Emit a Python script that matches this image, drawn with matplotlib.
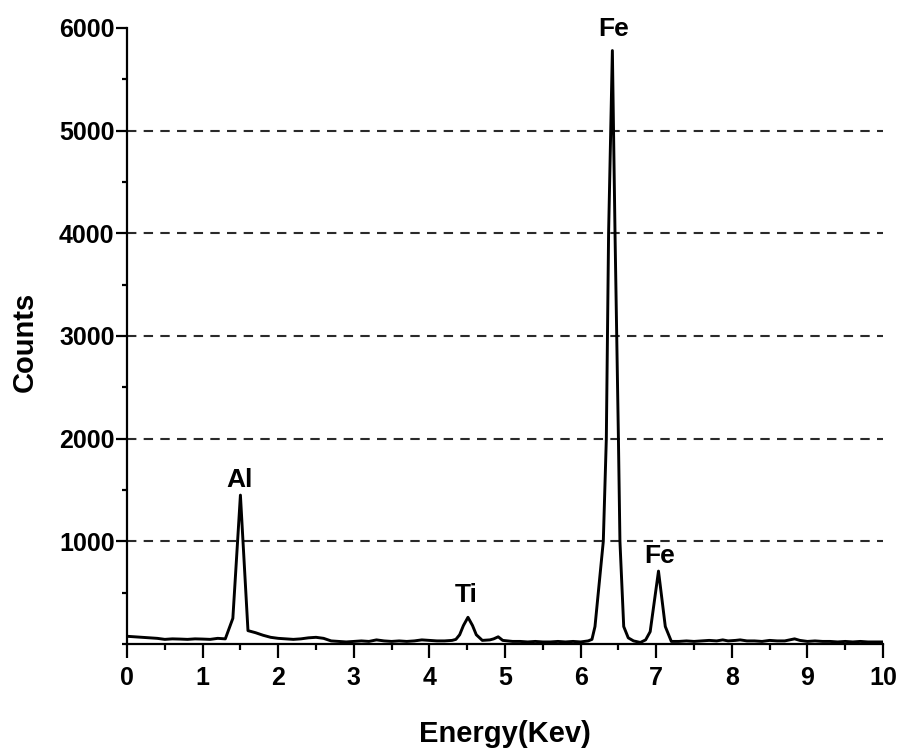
import matplotlib
matplotlib.use("Agg")
import matplotlib.pyplot as plt
from matplotlib.ticker import MultipleLocator

plt.rcParams["font.family"] = ["Liberation Sans", "DejaVu Sans"]
plt.rcParams["font.weight"] = "bold"

# EDS spectrum: energy (keV) and counts
energy = [0.0, 0.1, 0.2, 0.3, 0.4, 0.5, 0.6, 0.7, 0.8, 0.9, 1.0, 1.1, 1.2, 1.3,
          1.4, 1.5, 1.6, 1.7, 1.8, 1.9, 2.0, 2.1, 2.2, 2.3, 2.4, 2.5, 2.6, 2.7,
          2.8, 2.9, 3.0, 3.1, 3.2, 3.3, 3.4, 3.5, 3.6, 3.7, 3.8, 3.9, 4.0, 4.1,
          4.2, 4.3, 4.35, 4.4, 4.45, 4.51, 4.57, 4.62, 4.7, 4.8, 4.85, 4.91,
          4.97, 5.1, 5.2, 5.3, 5.4, 5.5, 5.6, 5.7, 5.8, 5.9, 6.0, 6.1, 6.15,
          6.19, 6.30, 6.34, 6.37, 6.42, 6.455, 6.50, 6.52, 6.57, 6.63, 6.7,
          6.79, 6.86, 6.92, 7.03, 7.12, 7.2, 7.3, 7.4, 7.5, 7.6, 7.7, 7.8,
          7.88, 7.95, 8.05, 8.11, 8.2, 8.3, 8.4, 8.5, 8.6, 8.7, 8.83, 8.9,
          9.0, 9.1, 9.2, 9.3, 9.4, 9.5, 9.6, 9.7, 9.8, 9.9, 10.0]
counts = [75, 70, 65, 60, 55, 45, 50, 48, 45, 50, 48, 45, 55, 50,
          250, 1450, 130, 110, 85, 65, 55, 50, 45, 50, 60, 65, 55, 30,
          25, 20, 25, 30, 25, 40, 30, 25, 30, 25, 30, 40, 35, 30,
          30, 35, 45, 90, 180, 260, 180, 90, 35, 40, 50, 70,
          35, 25, 25, 20, 25, 20, 20, 25, 20, 25, 20, 30, 45,
          170, 1000, 2000, 4000, 5780, 4000, 2000, 1000, 170, 60, 30,
          15, 40, 120, 710, 170, 25, 25, 30, 25, 30, 35, 30,
          40, 30, 35, 40, 30, 30, 25, 35, 30, 30, 50, 35,
          25, 30, 25, 25, 20, 25, 20, 25, 20, 20, 20]

# Peak annotations: element, energy, count position of label baseline
peak_names = ["Al", "Ti", "Fe", "Fe"]
peak_x = [1.49, 4.49, 6.43, 7.05]
peak_y = [1530, 410, 5920, 785]

grid_levels = [1000, 2000, 3000, 4000, 5000]

fig = plt.figure(figsize=(9.04, 7.54), dpi=100)
ax = fig.add_axes([0.1405, 0.1459, 0.8363, 0.8170])

for lvl in grid_levels:
    ax.axhline(lvl, color="#2a2a2a", lw=1.5, dashes=(4.5, 3.5), zorder=1)

ax.plot(energy, counts, color="black", lw=2.1, solid_joinstyle="round", zorder=3)

for name, x, y in zip(peak_names, peak_x, peak_y):
    ax.text(x, y, name, ha="center", va="baseline", fontsize=19,
            fontweight="bold", zorder=4)

ax.set_xlim(0, 10)
ax.set_ylim(0, 6000)
ax.xaxis.set_major_locator(MultipleLocator(1))
ax.xaxis.set_minor_locator(MultipleLocator(0.5))
ax.yaxis.set_major_locator(MultipleLocator(1000))
ax.yaxis.set_minor_locator(MultipleLocator(500))
ax.set_yticks([1000, 2000, 3000, 4000, 5000, 6000])

for side in ["top", "right"]:
    ax.spines[side].set_visible(False)
for side in ["left", "bottom"]:
    ax.spines[side].set_linewidth(1.6)

ax.tick_params(axis="x", which="major", length=10, width=1.6, pad=6, labelsize=18)
ax.tick_params(axis="x", which="minor", length=4.5, width=1.6)
ax.tick_params(axis="y", which="major", length=8, width=1.6, pad=1, labelsize=18)
ax.tick_params(axis="y", which="minor", length=3.5, width=1.6)
for lbl in ax.get_xticklabels() + ax.get_yticklabels():
    lbl.set_fontweight("bold")

ax.set_xlabel("Energy(Kev)", fontsize=21, fontweight="bold")
ax.set_ylabel("Counts", fontsize=21, fontweight="bold")
ax.xaxis.set_label_coords(0.5, -0.124)
ax.yaxis.set_label_coords(-0.117, 0.49)

fig.savefig("out.png", dpi=100)
